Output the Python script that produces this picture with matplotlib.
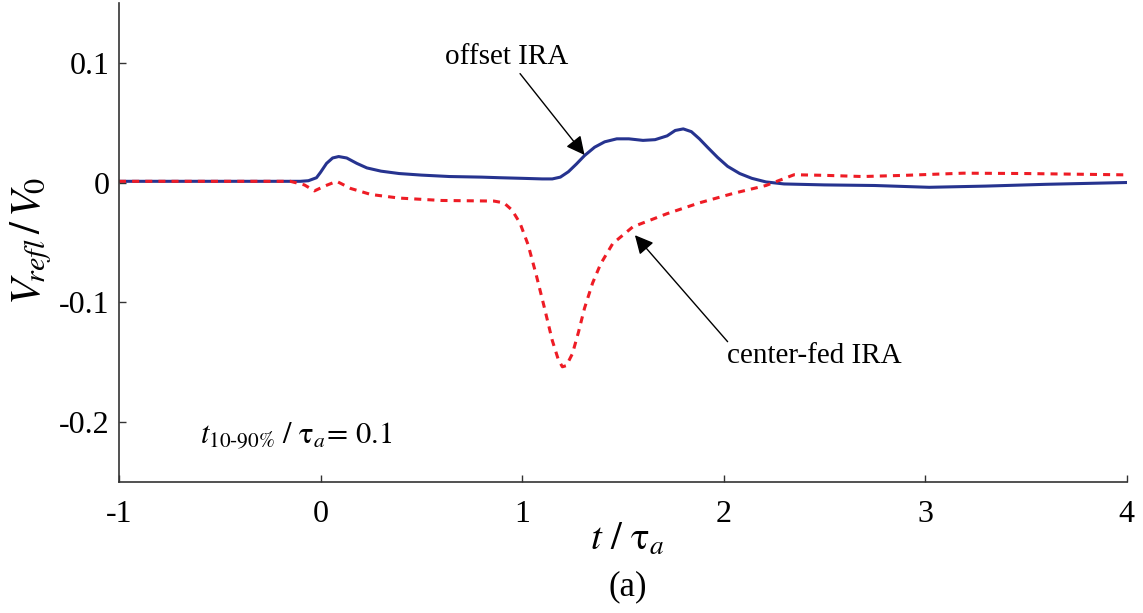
import matplotlib
matplotlib.use("Agg")
import matplotlib.pyplot as plt

plt.rcParams['font.family'] = ['Liberation Serif', 'DejaVu Serif']
plt.rcParams['mathtext.fontset'] = 'stix'

# offset IRA (solid blue)
t_offset = [-1.0, -0.5, -0.1, -0.06, -0.02, 0.0, 0.03, 0.06, 0.09, 0.13, 0.18, 0.23, 0.3, 0.39, 0.5,
            0.64, 0.8, 0.89, 1.0, 1.1, 1.15, 1.19, 1.23, 1.27, 1.31, 1.36, 1.41, 1.47,
            1.53, 1.6, 1.66, 1.72, 1.76, 1.8, 1.84, 1.88, 1.92, 1.97, 2.02, 2.08, 2.14, 2.21, 2.3,
            2.5, 2.75, 3.02, 3.3, 3.6, 4.0]
v_offset = [0.001, 0.001, 0.001, 0.0015, 0.004, 0.0085, 0.016, 0.0205, 0.0217, 0.0205, 0.016, 0.0122, 0.0095, 0.0075, 0.0062,
            0.005, 0.0045, 0.004, 0.0035, 0.003, 0.003, 0.0045, 0.009, 0.0155, 0.0225, 0.0295, 0.034, 0.0365,
            0.0365, 0.0352, 0.0358, 0.039, 0.0435, 0.0448, 0.0425, 0.0365, 0.0295, 0.021, 0.0135, 0.0075, 0.0035, 0.0005, -0.0012,
            -0.002, -0.0025, -0.004, -0.003, -0.0015, 0.0]

# center-fed IRA (dashed red)
t_center = [-1.0, -0.5, -0.15, -0.08, -0.03, 0.02, 0.08, 0.15, 0.25, 0.39, 0.6, 0.86,
            0.91, 0.95, 0.99, 1.03, 1.07, 1.11, 1.15, 1.18, 1.2, 1.22, 1.25, 1.28, 1.31, 1.35, 1.39, 1.45,
            1.55, 1.72, 1.88, 2.05, 2.21, 2.28, 2.35, 2.5, 2.69, 2.9, 3.19, 3.5,
            4.0]
v_center = [0.001, 0.001, 0.001, -0.002, -0.007, -0.003, 0.001, -0.005, -0.010, -0.013, -0.015, -0.0155,
            -0.017, -0.023, -0.034, -0.052, -0.077, -0.104, -0.132, -0.148, -0.154, -0.153, -0.143, -0.125, -0.105, -0.084, -0.068, -0.051,
            -0.037, -0.026, -0.017, -0.009, -0.0025, 0.002, 0.0065, 0.006, 0.005, 0.006, 0.0078, 0.0075,
            0.0064]

fig = plt.figure(figsize=(11.43, 6.13), dpi=100)
ax = fig.add_axes([0.1041, 0.2142, 0.8816, 0.7809])

ax.plot(t_offset, v_offset, color='#26338f', lw=2.2)
ax.plot(t_center, v_center, color='#ee1c25', lw=2.2, linestyle=(0, (2.3, 2.0)))

ax.set_xlim(-1, 4)
ax.set_ylim(-0.25, 0.15)
ax.set_xticks([-1, 0, 1, 2, 3, 4])
ax.set_xticklabels(['-1', '0', '1', '2', '3', '4'])
ax.set_yticks([-0.2, -0.1, 0, 0.1])
ax.set_yticklabels(['-0.2', '-0.1', '0', '0.1'])
ax.tick_params(direction='in', length=5, width=1, labelsize=23, color='#333333', pad=7)
ax.tick_params(axis='x', pad=13)
ax.spines['top'].set_visible(False)
ax.spines['right'].set_visible(False)
for s in ['left', 'bottom']:
    ax.spines[s].set_linewidth(1.2)
    ax.spines[s].set_color('#333333')

fig.text(0.027, 0.607, r'$V_{\!refl}\,/\,V_{\!0}$', fontsize=31, rotation=90, ha='center', va='center')
fig.text(0.549, 0.118, r'$t\ /\ \mathrm{τ}_a$', fontsize=28, ha='center', va='center')
fig.text(0.549, 0.042, '(a)', fontsize=25, ha='center', va='center')

arrow = dict(arrowstyle='-|>', color='black', lw=1, mutation_scale=28, shrinkA=0, shrinkB=0)
ax.text(0.925, 0.105, 'offset IRA', fontsize=21, ha='center', va='center')
ax.annotate('', xy=(1.31, 0.023), xytext=(0.99, 0.091), arrowprops=arrow)
ax.text(2.45, -0.145, 'center-fed IRA', fontsize=21, ha='center', va='center')
ax.annotate('', xy=(1.56, -0.044), xytext=(2.02, -0.133), arrowprops=arrow)
ax.text(-0.6, -0.211, r'$t_{\mathrm{10\text{-}90\%}}\ /\ \mathrm{τ}_a\!=\,\mathrm{0.1}$', fontsize=22,
        ha='left', va='center')

fig.savefig('out.png', dpi=100)
